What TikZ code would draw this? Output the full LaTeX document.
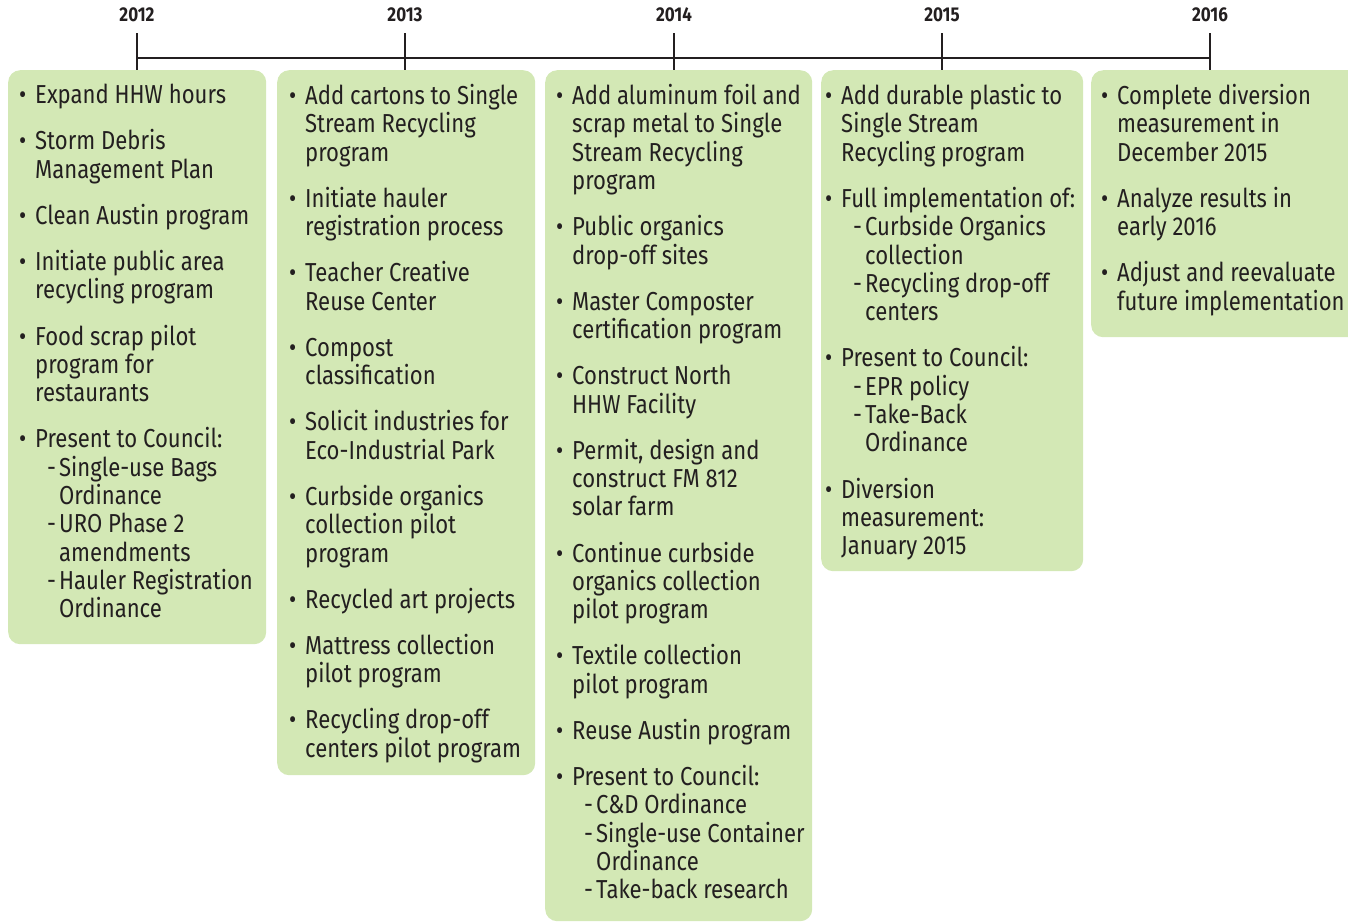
\documentclass[tikz,border=0pt]{standalone}
\usepackage{fontspec}
\setmainfont[FakeStretch=0.85]{Fira Sans}
\usetikzlibrary{positioning}

\definecolor{boxgreen}{RGB}{211,232,181}
\definecolor{inkgrey}{RGB}{35,31,32}

\newcommand{\bu}{\llap{\textbullet\hspace{9pt}}}
\newcommand{\subi}{\hspace*{12pt}\makebox[12pt][l]{-}}
\newcommand{\cont}{\hspace*{24pt}}
\newcommand{\gap}{\\[17.8pt]}

\begin{document}
\begin{tikzpicture}[x=1pt,y=-1pt,
    year/.style={font=\fontsize{20}{22}\selectfont\bfseries,text=inkgrey},
    timebar/.style={line width=2.6pt,inkgrey},
    panel/.style={fill=boxgreen,rounded corners=12pt,draw=none,
      anchor=north west,inner sep=0pt},
    items/.style={anchor=north west,align=left,inner sep=0pt,text=inkgrey,
      font=\fontsize{26}{28.35}\selectfont}]
  \useasboundingbox (0,0) rectangle (1348,922);
  \clip (0,0) rectangle (1348,922);

  \node[panel,minimum width=258pt,minimum height=574pt] (p2012) at (8,70) {};
  \node[panel,minimum width=258pt,minimum height=705pt] (p2013) at (277,70) {};
  \node[panel,minimum width=267pt,minimum height=851pt] (p2014) at (545,70) {};
  \node[panel,minimum width=262pt,minimum height=501pt] (p2015) at (821,70) {};
  \node[panel,minimum width=280pt,minimum height=267pt] (p2016) at (1091,70) {};

  \foreach \yr/\xx in {2012/137,2013/405,2014/674,2015/942,2016/1210}{
    \node[year] (y\yr) at (\xx,15) {\yr};
    \coordinate (t\yr) at (\xx,33);
    \coordinate (m\yr) at (\xx,58);
    \coordinate (b\yr) at (\xx,70);
    \draw[timebar] (t\yr) -- (b\yr);
  }
  \draw[timebar] (m2012) -- (m2016);

  \node[items] (i2012) at ([xshift=27pt,yshift=-14pt]p2012.north west) {%
    \bu Expand HHW hours\gap
    \bu Storm Debris\\ Management Plan\gap
    \bu Clean Austin program\gap
    \bu Initiate public area\\ recycling program\gap
    \bu Food scrap pilot\\ program for\\ restaurants\gap
    \bu Present to Council:\\
    \subi Single-use Bags\\ \cont Ordinance\\
    \subi URO Phase 2\\ \cont amendments\\
    \subi Hauler Registration\\ \cont Ordinance};

  \node[items] (i2013) at ([xshift=28pt,yshift=-14pt]p2013.north west) {%
    \bu Add cartons to Single\\ Stream Recycling\\ program\gap
    \bu Initiate hauler\\ registration process\gap
    \bu Teacher Creative\\ Reuse Center\gap
    \bu Compost\\ classification\gap
    \bu Solicit industries for\\ Eco-Industrial Park\gap
    \bu Curbside organics\\ collection pilot\\ program\gap
    \bu Recycled art projects\gap
    \bu Mattress collection\\ pilot program\gap
    \bu Recycling drop-off\\ centers pilot program};

  \node[items] (i2014) at ([xshift=27pt,yshift=-14pt]p2014.north west) {%
    \bu Add aluminum foil and\\ scrap metal to Single\\ Stream Recycling\\ program\gap
    \bu Public organics\\ drop-off sites\gap
    \bu Master Composter\\ certification program\gap
    \bu Construct North\\ HHW Facility\gap
    \bu Permit, design and\\ construct FM 812\\ solar farm\gap
    \bu Continue curbside\\ organics collection\\ pilot program\gap
    \bu Textile collection\\ pilot program\gap
    \bu Reuse Austin program\gap
    \bu Present to Council:\\
    \subi C\&D Ordinance\\
    \subi Single-use Container\\ \cont Ordinance\\
    \subi Take-back research};

  \node[items] (i2015) at ([xshift=20pt,yshift=-14pt]p2015.north west) {%
    \bu Add durable plastic to\\ Single Stream\\ Recycling program\gap
    \bu Full implementation of:\\
    \subi Curbside Organics\\ \cont collection\\
    \subi Recycling drop-off\\ \cont centers\gap
    \bu Present to Council:\\
    \subi EPR policy\\
    \subi Take-Back\\ \cont Ordinance\gap
    \bu Diversion\\ measurement:\\ January 2015};

  \node[items] (i2016) at ([xshift=26pt,yshift=-14pt]p2016.north west) {%
    \bu Complete diversion\\ measurement in\\ December 2015\gap
    \bu Analyze results in\\ early 2016\gap
    \bu Adjust and reevaluate\\ future implementation};
\end{tikzpicture}
\end{document}
